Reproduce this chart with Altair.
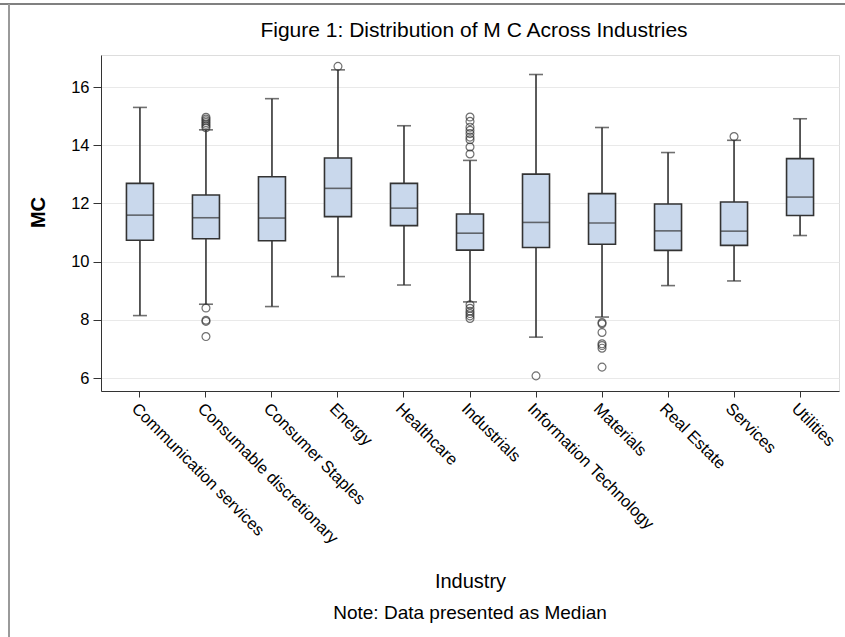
import altair as alt
import pandas as pd

# Summary statistics of MC per industry
industries = [
    "Communication services", "Consumable discretionary", "Consumer Staples",
    "Energy", "Healthcare", "Industrials", "Information Technology",
    "Materials", "Real Estate", "Services", "Utilities",
]
whisker_low = [8.15, 8.54, 8.46, 9.49, 9.20, 8.62, 7.41, 8.10, 9.18, 9.34, 10.90]
q1 = [10.74, 10.79, 10.72, 11.55, 11.24, 10.40, 10.49, 10.60, 10.39, 10.56, 11.59]
median = [11.60, 11.51, 11.50, 12.52, 11.84, 10.98, 11.35, 11.33, 11.06, 11.05, 12.22]
q3 = [12.69, 12.29, 12.92, 13.56, 12.69, 11.64, 13.01, 12.34, 11.98, 12.05, 13.54]
whisker_high = [15.30, 14.53, 15.60, 16.59, 14.67, 13.48, 16.43, 14.61, 13.75, 14.17, 14.91]

# Outlying observations beyond the whiskers
outlier_industry = (
    ["Consumable discretionary"] * 11
    + ["Energy"]
    + ["Industrials"] * 15
    + ["Information Technology"]
    + ["Materials"] * 7
    + ["Services"]
)
outlier_value = (
    [14.96, 14.90, 14.84, 14.78, 14.72, 14.66, 14.60, 8.41, 7.99, 7.95, 7.43]
    + [16.71]
    + [14.97, 14.82, 14.62, 14.51, 14.40, 14.28, 14.19, 13.94, 13.70,
       8.52, 8.40, 8.30, 8.22, 8.14, 8.05]
    + [6.08]
    + [7.91, 7.87, 7.57, 7.18, 7.12, 7.03, 6.38]
    + [14.30]
)

y_ticks = [6, 8, 10, 12, 14, 16]

chart_title = "Figure 1: Distribution of M C Across Industries"
note_text = "Note: Data presented as Median"

summary = pd.DataFrame({
    "Industry": industries, "lo": whisker_low, "q1": q1,
    "med": median, "q3": q3, "hi": whisker_high,
})
outliers = pd.DataFrame({"Industry": outlier_industry, "MC": outlier_value})
title_df = pd.DataFrame({"txt": [chart_title]})
note_df = pd.DataFrame({"txt": [note_text]})
frame_df = pd.DataFrame({"k": [0]})

FONT = "Liberation Sans"
EDGE = "#333333"
FILL = "#C9D8EC"
W, H = 738, 336

x_enc = alt.X(
    "Industry:N",
    sort=industries,
    scale=alt.Scale(domain=industries, paddingInner=0, paddingOuter=0.09),
    axis=alt.Axis(
        title="Industry", labelAngle=45, labelAlign="left", labelBaseline="top",
        labelFontSize=16.5, labelFont=FONT, labelColor="#000",
        labelPadding=3, tickSize=6, tickColor=EDGE, domainColor=EDGE,
        titleFont=FONT, titleFontSize=20, titleFontWeight="normal",
        titleColor="#000", titleY=196, titleBaseline="alphabetic",
        labelLimit=400,
    ),
)

y_scale = alt.Scale(domain=[5.56, 17.1], nice=False, zero=False)
y_axis = alt.Axis(
    title="MC", values=y_ticks, labelFontSize=16.5, labelFont=FONT,
    labelColor="#000", tickSize=8, tickColor=EDGE, domainColor=EDGE,
    labelPadding=4, gridColor="#e9e9e9", gridWidth=1.2,
    titleFont=FONT, titleFontSize=20, titleFontWeight="bold",
    titleColor="#000", titleX=-57, titleY=157, titleBaseline="alphabetic",
    titleAngle=-90,
)

base = alt.Chart(summary).encode(x=x_enc)

whiskers = base.mark_rule(color=EDGE, strokeWidth=1.6).encode(
    y=alt.Y("lo:Q", scale=y_scale, axis=y_axis), y2="hi:Q"
)
cap_lo = base.mark_tick(color=EDGE, size=14, thickness=1.6).encode(
    y=alt.Y("lo:Q", scale=y_scale)
)
cap_hi = base.mark_tick(color=EDGE, size=14, thickness=1.6).encode(
    y=alt.Y("hi:Q", scale=y_scale)
)
boxes = base.mark_bar(
    size=27, fill=FILL, stroke=EDGE, strokeWidth=1.6
).encode(y=alt.Y("q1:Q", scale=y_scale), y2="q3:Q")
medians = base.mark_tick(color=EDGE, size=27, thickness=1.6).encode(
    y=alt.Y("med:Q", scale=y_scale)
)
points = alt.Chart(outliers).mark_point(
    filled=False, color=EDGE, size=62, strokeWidth=1.2
).encode(
    x=alt.X("Industry:N", sort=industries),
    y=alt.Y("MC:Q", scale=y_scale),
)

title_mark = alt.Chart(title_df).mark_text(
    font=FONT, fontSize=21, color="#000", baseline="alphabetic", align="center"
).encode(text="txt:N", x=alt.value(W / 2 + 4), y=alt.value(-18))

note = alt.Chart(note_df).mark_text(
    font=FONT, fontSize=19, color="#000", baseline="alphabetic", align="center"
).encode(text="txt:N", x=alt.value(W / 2), y=alt.value(564))

# Page frame: top rule and left rule
frame_top = alt.Chart(frame_df).mark_rule(color="#808080", strokeWidth=2).encode(
    x=alt.value(-101), x2=alt.value(845 - 101), y=alt.value(-51)
)
frame_left = alt.Chart(frame_df).mark_rule(color="#9a9a9a", strokeWidth=2).encode(
    x=alt.value(-92), y=alt.value(-51), y2=alt.value(637 - 55)
)

chart = alt.layer(
    whiskers, cap_lo, cap_hi, boxes, medians, points,
    title_mark, note, frame_top, frame_left,
).properties(
    width=W,
    height=H,
    autosize=alt.AutoSizeParams(type="none"),
    padding={"left": 101, "top": 55, "right": 6, "bottom": 246},
).configure_view(
    stroke=EDGE, strokeWidth=1.5
).configure(background="white")

chart.save("out.html", embed_options={"renderer": "svg", "actions": False})
